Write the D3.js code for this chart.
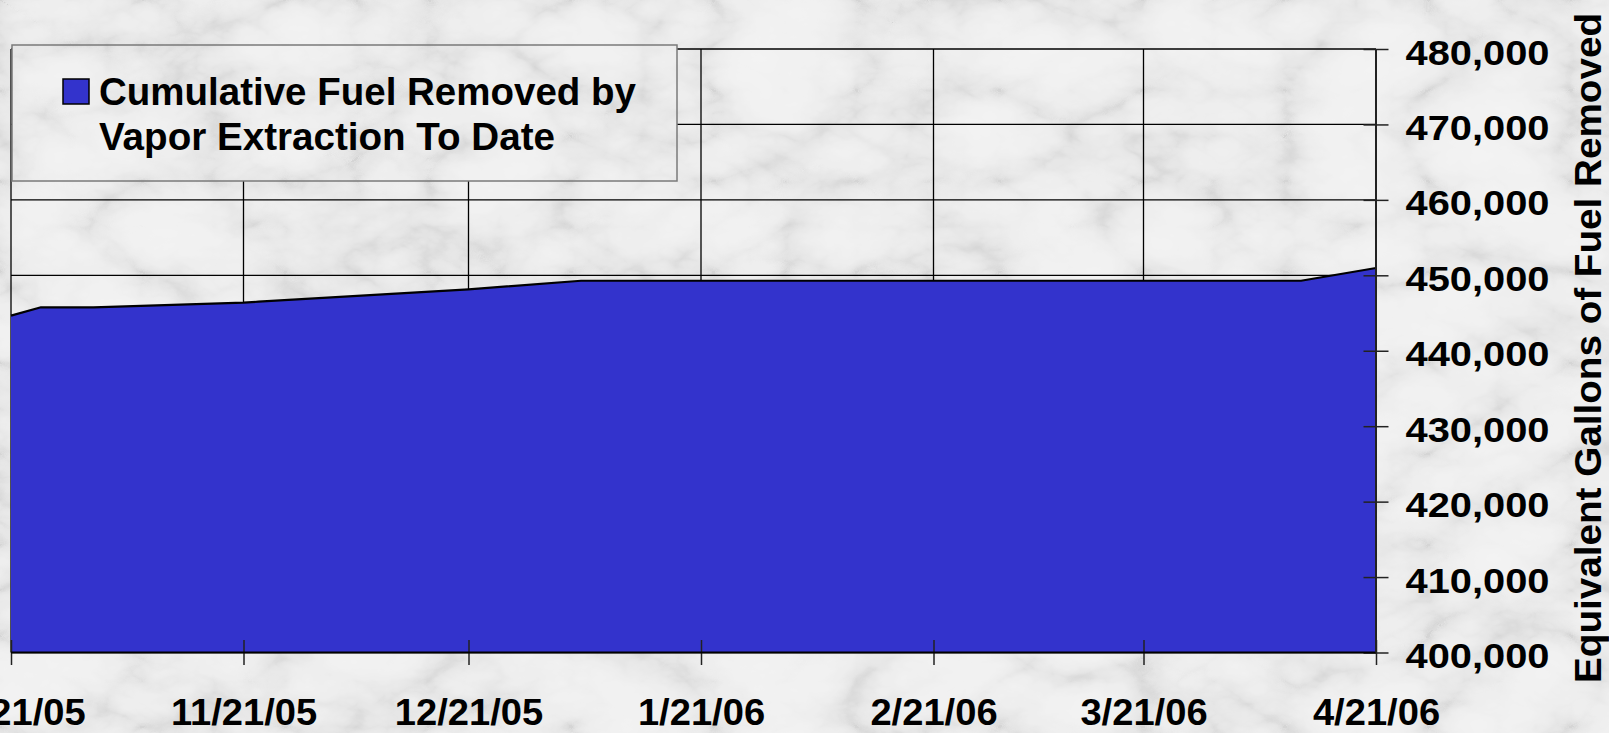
<!DOCTYPE html>
<html>
<head>
<meta charset="utf-8">
<script src="https://cdn.jsdelivr.net/npm/d3@7"></script>
<style>
  html, body { margin: 0; padding: 0; background: #e8e8e8; overflow: hidden; }
  svg { display: block; }
  text { font-family: "Liberation Sans", Arial, Helvetica, sans-serif; font-weight: bold; fill: #000; }
</style>
</head>
<body>
<svg id="chart" width="1609" height="733"></svg>
<script>
// ---- data ----
const dates = ["10/21/05", "10/25/05", "11/1/05", "11/21/05", "11/23/05", "12/21/05", "1/5/06", "4/11/06", "4/21/06"];
const fuelRemoved = [444650, 445760, 445760, 446370, 446500, 448140, 449280, 449280, 450970];
const xTickLabels = ["10/21/05", "11/21/05", "12/21/05", "1/21/06", "2/21/06", "3/21/06", "4/21/06"];
const yTickValues = [400000, 410000, 420000, 430000, 440000, 450000, 460000, 470000, 480000];
const seriesName = ["Cumulative Fuel Removed by", "Vapor Extraction To Date"];
const yAxisTitle = "Equivalent Gallons of Fuel Removed";

// ---- setup ----
const W = 1609, H = 733;
const plot = { left: 11, right: 1376, top: 49, bottom: 652.5 };
const parse = d3.timeParse("%m/%d/%y");
const data = dates.map((d, i) => ({ date: parse(d), value: fuelRemoved[i] }));
const xTickDates = xTickLabels.map(parse);

const x = d3.scaleTime()
  .domain([xTickDates[0], xTickDates[xTickDates.length - 1]])
  .range([plot.left, plot.right]);
const y = d3.scaleLinear()
  .domain([400000, 480000])
  .range([plot.bottom, plot.top]);

const svg = d3.select("#chart");
const defs = svg.append("defs");

// marble texture (filter region = element's own bounding box)
const f = defs.append("filter").attr("id", "marble")
  .attr("x", 0).attr("y", 0).attr("width", 1).attr("height", 1);
f.append("feTurbulence").attr("type", "turbulence")
  .attr("baseFrequency", "0.007 0.011").attr("numOctaves", 5).attr("seed", 7).attr("result", "t");
f.append("feColorMatrix").attr("type", "matrix")
  .attr("values", "1 0 0 0 0  1 0 0 0 0  1 0 0 0 0  0 0 0 0 1").attr("result", "g");
const ct = f.append("feComponentTransfer");
const tv = "0.67 0.79 0.85 0.88 0.89 0.90 0.91";
ct.append("feFuncR").attr("type", "table").attr("tableValues", tv);
ct.append("feFuncG").attr("type", "table").attr("tableValues", tv);
ct.append("feFuncB").attr("type", "table").attr("tableValues", tv);

svg.append("rect").attr("x", 0).attr("y", 0).attr("width", W).attr("height", H)
  .attr("fill", "#fff").attr("filter", "url(#marble)");

// ---- gridlines ----
const grid = svg.append("g").attr("stroke", "#000").attr("stroke-width", 1.3);
grid.selectAll("line.h").data(yTickValues).join("line")
  .attr("x1", plot.left).attr("x2", plot.right)
  .attr("y1", d => y(d)).attr("y2", d => y(d));
grid.selectAll("line.v").data(xTickDates).join("line")
  .attr("x1", d => x(d)).attr("x2", d => x(d))
  .attr("y1", plot.top).attr("y2", plot.bottom);

// ---- area ----
const area = d3.area().x(d => x(d.date)).y0(y(400000)).y1(d => y(d.value));
const line = d3.line().x(d => x(d.date)).y(d => y(d.value));
svg.append("path").datum(data).attr("d", area).attr("fill", "#3333cc");
svg.append("path").datum(data).attr("d", line).attr("fill", "none")
  .attr("stroke", "#000").attr("stroke-width", 2.2).attr("stroke-linejoin", "round");

// ---- axes ----
const xAxis = svg.append("g").attr("transform", `translate(0,${plot.bottom - 12.5})`)
  .call(d3.axisBottom(x).tickValues(xTickDates).tickSize(25).tickFormat((d, i) => xTickLabels[i]));
xAxis.select(".domain").remove();
xAxis.selectAll(".tick line").attr("stroke", "#222").attr("stroke-width", 1.5);
xAxis.selectAll(".tick text").attr("y", 85).attr("dy", null)
  .style("font-size", "37px").attr("text-anchor", "start")
  .each(function () {
    const w = this.getComputedTextLength() * 1.03;
    d3.select(this).attr("x", -w / 2).attr("textLength", w).attr("lengthAdjust", "spacingAndGlyphs");
  });

const yAxis = svg.append("g").attr("transform", `translate(${plot.right - 12.5},0)`)
  .call(d3.axisRight(y).tickValues(yTickValues).tickSize(25).tickFormat(d3.format(",")));
yAxis.select(".domain").remove();
yAxis.selectAll(".tick line").attr("stroke", "#222").attr("stroke-width", 1.5);
yAxis.selectAll(".tick text").attr("x", 42).attr("dy", null).attr("y", 15)
  .attr("text-anchor", "start").style("font-size", "35px")
  .attr("textLength", 144).attr("lengthAdjust", "spacingAndGlyphs");

// axis lines
svg.append("line").attr("x1", plot.left).attr("x2", plot.right)
  .attr("y1", plot.bottom).attr("y2", plot.bottom).attr("stroke", "#000").attr("stroke-width", 2);
svg.append("line").attr("x1", plot.right).attr("x2", plot.right)
  .attr("y1", plot.top).attr("y2", plot.bottom).attr("stroke", "#222").attr("stroke-width", 2);

// axis title (anchored at its start so textLength stretches predictably)
svg.append("text")
  .attr("transform", "translate(1601,683) rotate(-90)")
  .attr("text-anchor", "start").style("font-size", "37px")
  .attr("textLength", 670).attr("lengthAdjust", "spacingAndGlyphs")
  .text(yAxisTitle);

// ---- legend ----
const lg = svg.append("g");
lg.append("rect").attr("x", 12).attr("y", 45).attr("width", 665).attr("height", 136)
  .attr("fill", "#fff").attr("filter", "url(#marble)");
lg.append("rect").attr("x", 12).attr("y", 45).attr("width", 665).attr("height", 136)
  .attr("fill", "none").attr("stroke", "#7a7a7a").attr("stroke-width", 1.5);
lg.append("rect").attr("x", 63).attr("y", 79).attr("width", 26).attr("height", 25)
  .attr("fill", "#3333cc").attr("stroke", "#000").attr("stroke-width", 1.5);
const legendWidths = [537, 456];
lg.selectAll("text.leg").data(seriesName).join("text")
  .attr("x", 99).attr("y", (d, i) => 105 + i * 45)
  .style("font-size", "38px")
  .attr("textLength", (d, i) => legendWidths[i]).attr("lengthAdjust", "spacingAndGlyphs")
  .text(d => d);
</script>
</body>
</html>
